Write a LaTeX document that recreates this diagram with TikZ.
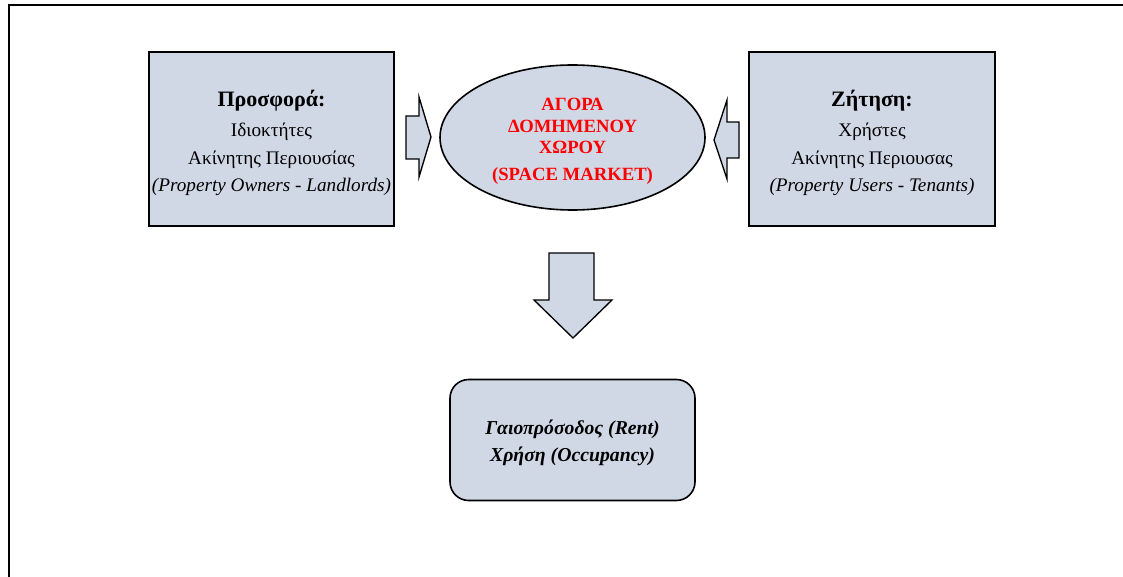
\documentclass[tikz,border=0pt]{standalone}
\usepackage{fontspec}
\setmainfont{Liberation Serif}
\begin{document}
\begin{tikzpicture}[x=0.75pt,y=-0.75pt,
  panel/.style={draw=black,line width=1.2pt,fill=boxfill},
  blockarrow/.style={draw=black,line width=1pt,fill=boxfill,line join=miter},
  txt/.style={align=center,font=\fontsize{14.4}{20.5}\selectfont}]
\definecolor{boxfill}{RGB}{208,215,229}
\useasboundingbox (0,0) rectangle (1123,577);
% outer frame
\draw[line width=1.3pt] (9,580) -- (9,5) -- (1126,5);

% supply and demand boxes
\node[panel,minimum width=245*0.75pt,minimum height=174*0.75pt] (supply) at (271.5,139) {};
\node[panel,minimum width=246*0.75pt,minimum height=174*0.75pt] (demand) at (872,139) {};
\node[txt] (supplytxt) at (271.5,143) {{\fontsize{16.5}{20}\selectfont\bfseries Προσφορά:}\\[2pt]
  Ιδιοκτήτες\\ Ακίνητης Περιουσίας\\ \textit{(Property Owners - Landlords)}};
\node[txt] (demandtxt) at (872,143) {{\fontsize{16.5}{20}\selectfont\bfseries Ζήτηση:}\\[2pt]
  Χρήστες\\ Ακίνητης Περιουσας\\ \textit{(Property Users - Tenants)}};

% market ellipse
\draw[panel] (572.5,137.5) ellipse (132.5 and 72.5);
\node[align=center,text=red,font=\fontsize{14}{16}\selectfont\bfseries] (market) at (572.5,141.5)
  {ΑΓΟΡΑ\\ ΔΟΜΗΜΕΝΟΥ\\ ΧΩΡΟΥ\\[4.5pt] (SPACE MARKET)};

% block arrows
\draw[blockarrow] (406,116) -- (419,116) -- (419,97) -- (431,137) -- (419,177) -- (419,159) -- (406,159) -- cycle;
\draw[blockarrow] (739,122) -- (727,122) -- (727,100) -- (714,140) -- (727,179) -- (727,158) -- (739,158) -- cycle;
\draw[blockarrow] (549,253) -- (594,253) -- (594,300) -- (612,300) -- (573,338) -- (534,300) -- (549,300) -- cycle;

% outcome box
\node[panel,rounded corners=14pt,minimum width=245*0.75pt,minimum height=121*0.75pt] (outcome) at (572.5,440) {};
\node[txt,font=\fontsize{14.8}{20.5}\selectfont\bfseries\itshape] (outcometxt) at (572.5,443)
  {Γαιοπρόσοδος (Rent)\\ Χρήση (Occupancy)};
\end{tikzpicture}
\end{document}
